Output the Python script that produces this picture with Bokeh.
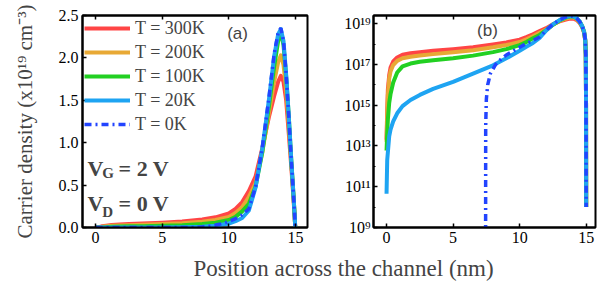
from bokeh.plotting import figure
from bokeh.layouts import column, row
from bokeh.models import (Range1d, FixedTicker, LinearAxis, Legend, LegendItem,
                          CustomJSTickFormatter, NumeralTickFormatter, Label)
from bokeh.embed import file_html
from bokeh.resources import INLINE

# ---------------- data (carrier density, cm^-3) ----------------
pos_nm = [0.0, 0.05, 0.1, 0.2, 0.3, 0.5, 0.8, 1.2, 1.8, 2.5, 3.5, 5.0, 6.5, 8.0, 9.0,
          10.0, 10.5, 11.0, 11.5, 12.0, 12.5, 13.0, 13.4, 13.7, 13.9, 14.1, 14.3,
          14.5, 14.7, 14.85, 14.93, 14.97, 14.99, 15.0]

n_300K = [2e13, 6e14, 6e15, 3e16, 7e16, 1.4e17, 2.2e17, 3.0e17, 3.5e17, 4.0e17, 4.7e17,
          5.6e17, 7.0e17, 9.5e17, 1.2e18, 1.65e18, 2.2e18, 3.0e18, 4.3e18, 6.0e18,
          9.3e18, 1.3e19, 1.55e19, 1.72e19, 1.79e19, 1.72e19, 1.5e19, 1.1e19, 6.8e18,
          3.4e18, 1.4e18, 3e17, 1e15, 1e10]
n_200K = [1.6e13, 3e14, 3e15, 2e16, 4.5e16, 9.3e16, 1.5e17, 2.0e17, 2.4e17, 2.75e17, 3.2e17,
          4.0e17, 5.0e17, 6.9e17, 8.9e17, 1.25e18, 1.7e18, 2.4e18, 3.6e18, 5.2e18,
          8.8e18, 1.35e19, 1.72e19, 1.95e19, 2.03e19, 1.92e19, 1.62e19, 1.2e19, 7.2e18,
          3.6e18, 1.5e18, 3e17, 1e15, 1e10]
n_100K = [6e12, 4e13, 2e14, 1.3e15, 3.5e15, 1.3e16, 4e16, 8e16, 1.1e17, 1.35e17, 1.6e17,
          2.0e17, 2.7e17, 4.0e17, 5.6e17, 8.9e17, 1.25e18, 1.9e18, 2.8e18, 4.8e18,
          8.8e18, 1.42e19, 1.9e19, 2.2e19, 2.3e19, 2.15e19, 1.78e19, 1.3e19, 7.5e18,
          3.8e18, 1.6e18, 3e17, 1e15, 1e10]
n_20K = [4.5e10, 2e12, 5e12, 3e13, 6.3e13, 1.6e14, 4e14, 9e14, 1.8e15, 3.2e15, 6.3e15,
         1.4e16, 3.5e16, 9e16, 2e17, 4.7e17, 7.4e17, 1.12e18, 2.0e18, 4.7e18,
         9.2e18, 1.5e19, 2.02e19, 2.28e19, 2.34e19, 2.2e19, 1.8e19, 1.3e19, 7.5e18,
         3.8e18, 1.6e18, 3e17, 1e15, 1e10]

pos_0K = [0.0, 7.44, 7.45, 7.5, 7.6, 7.8, 8.2, 8.6, 9.0, 9.5, 10.0, 10.5, 11.0, 11.5,
          12.0, 12.5, 13.0, 13.4, 13.7, 13.9, 14.1, 14.3, 14.5, 14.7, 14.85, 14.93,
          14.97, 14.99, 15.0]
n_0K = [1e5, 1e5, 1e14, 2e15, 1e16, 3.5e16, 1e17, 1.8e17, 2.9e17, 4.5e17, 7e17, 1.05e18,
        1.5e18, 2.2e18, 4.8e18, 9.3e18, 1.52e19, 2.05e19, 2.3e19, 2.35e19, 2.2e19,
        1.8e19, 1.3e19, 7.5e18, 3.8e18, 1.6e18, 3e17, 1e15, 1e10]

labels = ["T = 300K", "T = 200K", "T = 100K", "T = 20K", "T = 0K"]
colors = ["#ff4545", "#e8a935", "#22d022", "#1ea4f2", "#2244ff"]

x_ticks = [0, 5, 10, 15]
lin_ticks = [0.0, 0.5, 1.0, 1.5, 2.0, 2.5]
log_ticks = [1e9, 1e11, 1e13, 1e15, 1e17, 1e19]
log_minor = [1e10, 1e12, 1e14, 1e16, 1e18]
UNIT = 1e19

SERIF = "Liberation Serif"
SANS = "Liberation Sans"
DASHDOT = "7 4 2 4"


def style_axis(ax, show_labels=True):
    ax.major_tick_in = 4
    ax.major_tick_out = 0
    ax.minor_tick_in = 2
    ax.minor_tick_out = 0
    ax.axis_line_width = 2
    ax.axis_line_color = "black"
    ax.major_tick_line_width = 1.5
    ax.major_tick_line_color = "black"
    ax.minor_tick_line_color = "black"
    ax.major_label_text_font = SERIF
    ax.major_label_text_font_size = "16px"
    ax.major_label_text_color = "black"
    ax.major_label_standoff = 4
    if not show_labels:
        ax.formatter = CustomJSTickFormatter(code="return '';")
        ax.major_label_standoff = 0


# ---------------- panel (a) ----------------
p1 = figure(width=330, height=250, x_range=Range1d(-0.98, 15.9), y_range=Range1d(0, 2.5),
            output_backend="svg", toolbar_location=None,
            min_border_left=82, min_border_right=23, min_border_top=15, min_border_bottom=23)
p1.grid.visible = False
p1.outline_line_color = "black"
p1.outline_line_width = 2
p1.xaxis.ticker = FixedTicker(ticks=x_ticks, minor_ticks=[])
p1.yaxis.ticker = FixedTicker(ticks=lin_ticks, minor_ticks=[])
p1.yaxis.formatter = NumeralTickFormatter(format="0.0")
style_axis(p1.xaxis[0])
style_axis(p1.yaxis[0])
p1.yaxis.axis_label = "Carrier density (x10\u00b9\u2079 cm\u207b\u00b3)"
p1.yaxis.axis_label_text_font = SERIF
p1.yaxis.axis_label_text_font_size = "21px"
p1.yaxis.axis_label_text_font_style = "normal"
p1.yaxis.axis_label_standoff = 19
top1 = LinearAxis(ticker=FixedTicker(ticks=x_ticks, minor_ticks=[]))
style_axis(top1, show_labels=False)
p1.add_layout(top1, "above")

series = [n_300K, n_200K, n_100K, n_20K]
rends = []
for s, c in zip(series, colors[:4]):
    r = p1.line(pos_nm, [v / UNIT for v in s], line_color=c, line_width=4, line_join="round")
    rends.append(r)
r0 = p1.line(pos_0K, [v / UNIT for v in n_0K], line_color=colors[4], line_width=3.5,
             line_dash=DASHDOT)
rends.append(r0)

legend = Legend(items=[LegendItem(label=l, renderers=[r]) for l, r in zip(labels, rends)],
                location="top_left", background_fill_alpha=0, border_line_alpha=0,
                label_text_font=SERIF, label_text_font_size="18px",
                glyph_width=46, glyph_height=22, label_height=22, spacing=2,
                padding=2, margin=0, label_standoff=5)
p1.add_layout(legend)

p1.add_layout(Label(x=10.65, y=2.29, text="(a)", text_font=SANS, text_font_size="17px",
                    text_align="center", text_baseline="middle"))
for (main_y, sub_y, sub, rest) in [(0.696, 0.637, "G", "= 2 V"), (0.283, 0.177, "D", "= 0 V")]:
    p1.add_layout(Label(x=-0.6, y=main_y, text="V", text_font=SERIF, text_font_size="22px",
                        text_font_style="bold", text_baseline="alphabetic"))
    p1.add_layout(Label(x=0.5, y=sub_y, text=sub, text_font=SERIF, text_font_size="15px",
                        text_font_style="bold", text_baseline="alphabetic"))
    p1.add_layout(Label(x=1.73, y=main_y, text=rest, text_font=SERIF, text_font_size="22px",
                        text_font_style="bold", text_baseline="alphabetic"))

# ---------------- panel (b) ----------------
p2 = figure(width=273, height=250, x_range=Range1d(-0.98, 15.7),
            y_range=Range1d(1e9, 10 ** 19.4), y_axis_type="log",
            output_backend="svg", toolbar_location=None,
            min_border_left=43, min_border_right=8, min_border_top=15, min_border_bottom=23)
p2.grid.visible = False
p2.outline_line_color = "black"
p2.outline_line_width = 2
p2.xaxis.ticker = FixedTicker(ticks=x_ticks, minor_ticks=[])
p2.yaxis.ticker = FixedTicker(ticks=log_ticks, minor_ticks=log_minor)
p2.yaxis.formatter = CustomJSTickFormatter(code=r"""
const sup = {"0":"\u2070","1":"\u00b9","2":"\u00b2","3":"\u00b3","4":"\u2074",
             "5":"\u2075","6":"\u2076","7":"\u2077","8":"\u2078","9":"\u2079","-":"\u207b"};
const e = Math.round(Math.log10(tick));
return "10" + String(e).split("").map(c => sup[c]).join("");
""")
style_axis(p2.xaxis[0])
style_axis(p2.yaxis[0])
p2.yaxis.major_label_standoff = 3
top2 = LinearAxis(ticker=FixedTicker(ticks=x_ticks, minor_ticks=[]))
style_axis(top2, show_labels=False)
p2.add_layout(top2, "above")

for s, c in zip(series, colors[:4]):
    p2.line(pos_nm, s, line_color=c, line_width=4, line_join="round")
p2.line(pos_0K, n_0K, line_color=colors[4], line_width=3.5, line_dash=DASHDOT)

p2.add_layout(Label(x=7.58, y=4.6e18, text="(b)", text_font=SANS, text_font_size="17px",
                    text_align="center", text_baseline="middle"))

# ---------------- shared x-axis title ----------------
p3 = figure(width=603, height=34, x_range=Range1d(0, 603), y_range=Range1d(0, 34),
            output_backend="svg", toolbar_location=None, x_axis_type=None, y_axis_type=None,
            min_border=0)
p3.outline_line_color = None
p3.add_layout(Label(x=343, y=16, text="Position across the channel (nm)", text_font=SERIF,
                    text_font_size="23px", text_align="center", text_baseline="middle"))

layout = column(row(p1, p2), p3)
open("out.html", "w").write(file_html(layout, INLINE))
